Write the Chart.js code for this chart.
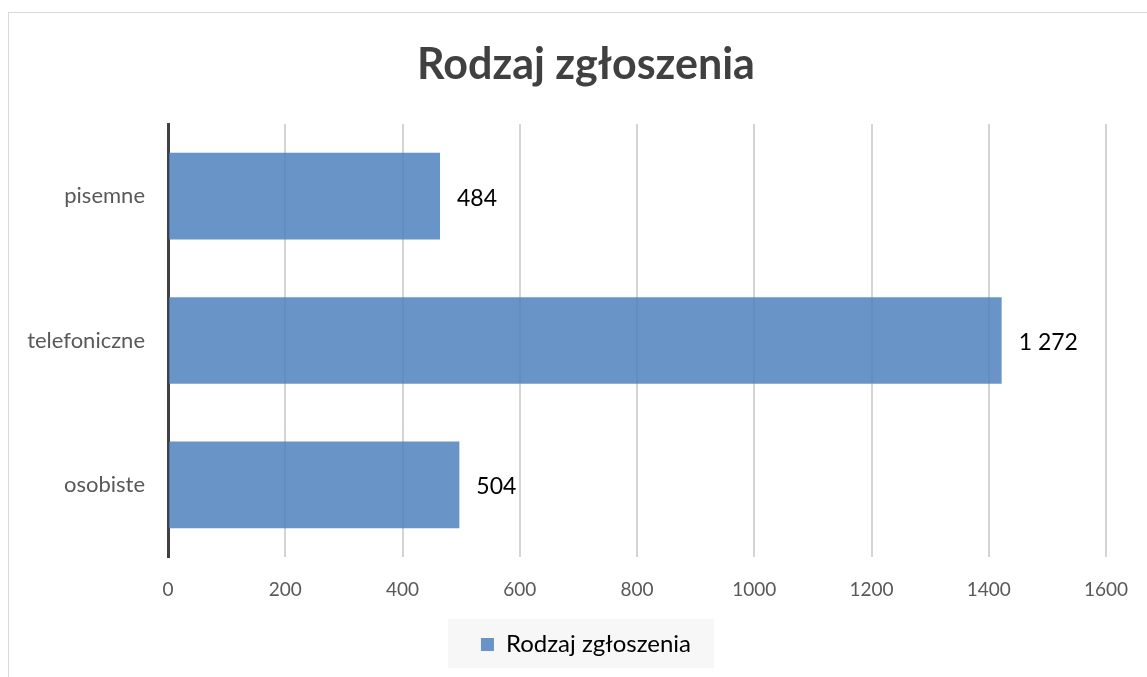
<!DOCTYPE html>
<html>
<head>
<meta charset="utf-8">
<script src="https://cdn.jsdelivr.net/npm/chart.js@4.4.0/dist/chart.umd.min.js"></script>
<style>
  html, body { margin: 0; padding: 0; background: #ffffff; }
  #wrap { width: 1147px; height: 677px; }
</style>
</head>
<body>
<div id="wrap"><canvas id="c" width="1147" height="677"></canvas></div>
<script>
const categories = ['pisemne', 'telefoniczne', 'osobiste'];
const barValues = [464, 1422, 497];
const valueLabels = ['484', '1 272', '504'];
const seriesName = 'Rodzaj zgłoszenia';
const chartTitle = 'Rodzaj zgłoszenia';
const xMin = 0, xMax = 1600, xStep = 200;

const FONT = 'Lato, "Open Sans", "DejaVu Sans", sans-serif';

const frame = {
  id: 'frame',
  beforeDraw(chart) {
    const ctx = chart.ctx;
    ctx.save();
    ctx.fillStyle = '#ffffff';
    ctx.fillRect(0, 0, chart.width, chart.height);
    ctx.strokeStyle = '#d9d9d9';
    ctx.lineWidth = 1;
    ctx.strokeRect(8.5, 12.5, chart.width + 20, chart.height + 20);
    const lg = chart.legend;
    if (lg && lg.legendHitBoxes && lg.legendHitBoxes.length) {
      const hb = lg.legendHitBoxes[0];
      ctx.fillStyle = '#f7f7f7';
      ctx.fillRect(hb.left - 33, hb.top + hb.height / 2 - 25.5, hb.width + 56, 49);
    }
    ctx.restore();
  }
};

const valueLabelPlugin = {
  id: 'valueLabels',
  afterDatasetsDraw(chart) {
    const ctx = chart.ctx;
    const meta = chart.getDatasetMeta(0);
    ctx.save();
    ctx.font = '23px ' + FONT;
    ctx.fillStyle = '#000000';
    ctx.textAlign = 'left';
    ctx.textBaseline = 'middle';
    meta.data.forEach((bar, i) => {
      ctx.fillText(valueLabels[i], bar.x + 17, bar.y + 2);
    });
    ctx.restore();
  }
};

new Chart(document.getElementById('c'), {
  type: 'bar',
  data: {
    labels: categories,
    datasets: [{
      label: seriesName,
      data: barValues,
      backgroundColor: 'rgba(79,129,189,0.85)',
      borderWidth: 0,
      categoryPercentage: 1,
      barPercentage: 0.6,
      yAxisID: 'y',
      xAxisID: 'x'
    }]
  },
  options: {
    indexAxis: 'y',
    responsive: false,
    animation: false,
    layout: { padding: { left: 25, right: 0, top: 0, bottom: 10.5 } },
    scales: {
      x: {
        position: 'bottom',
        min: xMin, max: xMax,
        ticks: {
          stepSize: xStep, color: '#595959', font: { family: FONT, size: 19 }, padding: 0,
          callback: (v) => String(v)
        },
        grid: { color: '#d4d4d4', lineWidth: 2, drawTicks: true, tickLength: 21, tickColor: 'rgba(0,0,0,0)' },
        border: { display: false },
        afterFit(s) { s.height = 50; }
      },
      y: {
        position: 'left',
        ticks: { color: '#595959', font: { family: FONT, size: 22 }, padding: 23 },
        grid: { display: false, drawTicks: false },
        border: { display: true, color: '#404040', width: 3 },
        afterFit(s) { s.width = 143; }
      },
      y2: {
        position: 'right',
        display: true,
        ticks: { display: false },
        grid: { display: false, drawTicks: false },
        border: { display: false },
        afterFit(s) { s.width = 41; }
      }
    },
    plugins: {
      title: {
        display: true,
        text: chartTitle,
        color: '#404040',
        font: { family: FONT, size: 43, weight: 'bold', lineHeight: 1.2 },
        padding: { top: 39, bottom: 33.4 }
      },
      legend: {
        display: true,
        position: 'bottom',
        labels: {
          color: '#000000',
          font: { family: FONT, size: 24 },
          boxWidth: 13, boxHeight: 13,
          padding: 25.5
        }
      },
      tooltip: { enabled: false }
    }
  },
  plugins: [frame, valueLabelPlugin]
});
</script>
</body>
</html>
